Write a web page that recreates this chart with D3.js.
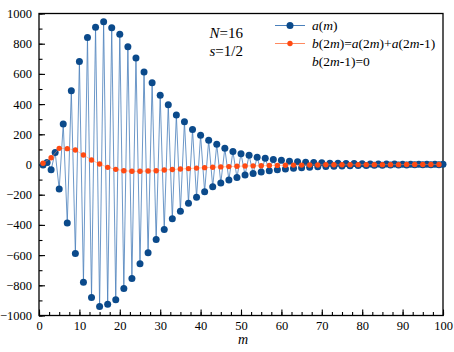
<!DOCTYPE html>
<html>
<head>
<meta charset="utf-8">
<script src="https://cdn.jsdelivr.net/npm/d3@7"></script>
<style>
  body { margin: 0; background: #fff; }
  svg text { font-family: "Liberation Serif", "Times New Roman", serif; }
</style>
</head>
<body>
<svg id="chart" width="454" height="352"></svg>
<script>
// a(m), m = 1..100
var aValues = [
  -3, 14, -34, 80, -162, 268, -387, 488, -590, 682,
  -780, 841, -880, 909, -940, 945, -925, 905, -896, 863,
  -821, 779, -755, 706, -658, 612, -585, 541, -497, 458,
  -431, 395, -360, 328, -310, 283, -256, 231, -217, 194,
  -180, 160, -148, 134, -122, 107, -102, 86, -86, 72,
  -70, 61, -59, 48, -50, 41, -41, 33, -35, 28,
  -29, 22, -25, 19, -21, 15, -18, 13, -15, 11,
  -13, 9, -11, 8, -10, 7, -8, 6, -7, 5,
  -6, 4, -5, 4, -5, 3, -4, 3, -3, 2,
  -3, 2, -2, 2, -2, 1, -2, 1, -1, 1
];
// b values, drawn at odd m = 1, 3, ..., 99
var bValues = [
  8, 45, 107, 105, 96, 63, 30, 3, -19, -32,
  -41, -45, -45, -43, -41, -36, -33, -30, -27, -24,
  -21, -18, -16, -14, -12, -10, -9, -8, -7, -6,
  -5, -4, -4, -3, -3, -2, -2, -2, -2, -1,
  -1, -1, -1, -1, -1, 0, 0, 0, 0, 0
];
var xTicks = [0, 10, 20, 30, 40, 50, 60, 70, 80, 90, 100];
var yTicks = [-1000, -800, -600, -400, -200, 0, 200, 400, 600, 800, 1000];
var legendLabels = ["a(m)", "b(2m)=a(2m)+a(2m-1)", "b(2m-1)=0"];

var blueDot = "#0b4a8b", blueLine = "#4a80bb";
var orange = "#ff4a12", orangeLine = "#ff8a60";
var serif = "'Liberation Serif', 'Times New Roman', serif";

var svg = d3.select("#chart");
var pLeft = 39, pRight = 443, pTop = 13.5, pBottom = 315.5;

var x = d3.scaleLinear().domain([0, 100]).range([pLeft, pRight]);
var y = d3.scaleLinear().domain([-1000, 1000]).range([pBottom, pTop]);

var aData = aValues.map(function(v, i) { return {m: i + 1, v: v}; });
var bData = bValues.map(function(v, i) { return {m: 2 * i + 1, v: v}; });

// frame
svg.append("rect")
  .attr("x", pLeft).attr("y", pTop)
  .attr("width", pRight - pLeft).attr("height", pBottom - pTop)
  .attr("fill", "none").attr("stroke", "#000").attr("stroke-width", 1.3);

// x axis: major + minor ticks pointing inward
var xAxis = svg.append("g").attr("transform", "translate(0," + pBottom + ")");
xAxis.append("g").call(d3.axisBottom(x).tickValues(d3.range(0, 100.1, 2.5)).tickSize(-3.5).tickFormat(""));
xAxis.append("g").call(d3.axisBottom(x).tickValues(xTicks).tickSize(-6).tickPadding(6).tickFormat(d3.format("d")));
xAxis.selectAll(".domain").remove();
xAxis.selectAll("g").attr("font-family", serif);
xAxis.selectAll("line").attr("stroke-width", 1.1);
xAxis.selectAll("text").attr("font-size", 12.5).attr("fill", "#000").style("font-family", serif);

var yAxis = svg.append("g").attr("transform", "translate(" + pLeft + ",0)");
yAxis.append("g").call(d3.axisLeft(y).tickValues(d3.range(-1000, 1001, 100)).tickSize(-3.5).tickFormat(""));
yAxis.append("g").call(d3.axisLeft(y).tickValues(yTicks).tickSize(-6).tickPadding(7)
  .tickFormat(function(d) { return d < 0 ? "\u2212" + Math.abs(d) : d; }));
yAxis.selectAll(".domain").remove();
yAxis.selectAll("g").attr("font-family", serif);
yAxis.selectAll("line").attr("stroke-width", 1.1);
yAxis.selectAll("text").attr("font-size", 12.5).attr("fill", "#000").style("font-family", serif);

svg.append("text")
  .attr("x", (pLeft + pRight) / 2 + 2).attr("y", 344)
  .attr("text-anchor", "middle").attr("font-size", 14).attr("font-style", "italic")
  .text("m");

// series
var line = d3.line().x(function(d) { return x(d.m); }).y(function(d) { return y(d.v); });

svg.append("path").datum(aData).attr("d", line)
  .attr("fill", "none").attr("stroke", blueLine).attr("stroke-width", 0.9).attr("stroke-opacity", 0.9);
svg.append("g").selectAll("circle").data(aData).enter().append("circle")
  .attr("cx", function(d) { return x(d.m); })
  .attr("cy", function(d) { return y(d.v); })
  .attr("r", 3.5).attr("fill", blueDot);

svg.append("path").datum(bData).attr("d", line)
  .attr("fill", "none").attr("stroke", orangeLine).attr("stroke-width", 0.7).attr("stroke-opacity", 0.7);
svg.append("g").selectAll("circle").data(bData).enter().append("circle")
  .attr("cx", function(d) { return x(d.m); })
  .attr("cy", function(d) { return y(d.v); })
  .attr("r", 2.7).attr("fill", orange);

// annotation
var note = svg.append("g").attr("font-size", 15);
var t1 = note.append("text").attr("x", 243).attr("y", 38).attr("text-anchor", "end");
t1.append("tspan").attr("font-style", "italic").text("N");
t1.append("tspan").text("=16");
var t2 = note.append("text").attr("x", 243).attr("y", 56).attr("text-anchor", "end");
t2.append("tspan").attr("font-style", "italic").text("s");
t2.append("tspan").text("=1/2");

// legend
var leg = svg.append("g").attr("font-size", 13.5);
leg.append("line").attr("x1", 275).attr("x2", 305).attr("y1", 25.5).attr("y2", 25.5)
  .attr("stroke", blueLine).attr("stroke-width", 1);
leg.append("circle").attr("cx", 290).attr("cy", 25.5).attr("r", 3.5).attr("fill", blueDot);
leg.append("line").attr("x1", 275).attr("x2", 305).attr("y1", 43.5).attr("y2", 43.5)
  .attr("stroke", orangeLine).attr("stroke-width", 1);
leg.append("circle").attr("cx", 290).attr("cy", 43.5).attr("r", 2.7).attr("fill", orange);

// italic letters, upright digits and brackets
function richText(sel, str) {
  str.split(/([a-z])/).forEach(function(part) {
    if (!part) return;
    sel.append("tspan").attr("font-style", /^[a-z]$/.test(part) ? "italic" : "normal").text(part);
  });
}
legendLabels.forEach(function(lab, i) {
  var t = leg.append("text").attr("x", 312).attr("y", 30 + i * 18);
  richText(t, lab);
});
</script>
</body>
</html>
